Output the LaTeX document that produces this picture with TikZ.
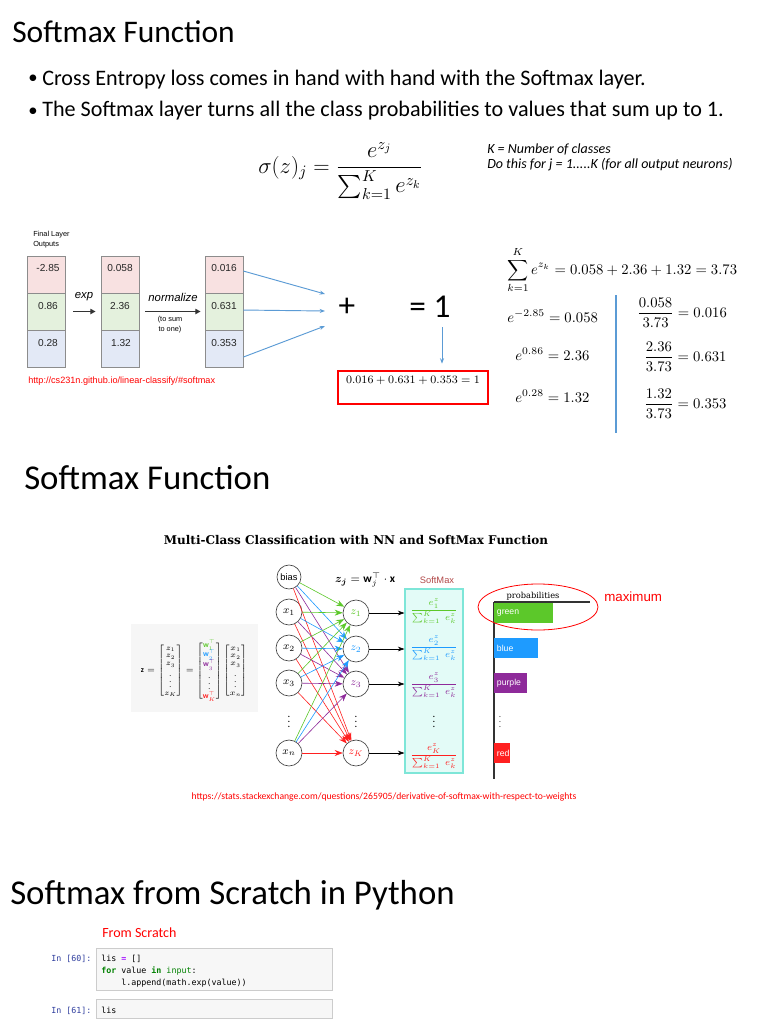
\RequirePackage{fix-cm}
\documentclass[tikz,border=0pt]{standalone}
\usepackage{amsmath}
\usepackage{fontspec}
\setmainfont{Carlito}
\newfontfamily\arialf{Liberation Sans}
\newfontfamily\slabf{DejaVu Serif}
\newfontfamily\monof{DejaVu Sans Mono}
\usetikzlibrary{arrows.meta,shapes.geometric}
\newcommand{\myfs}[1]{\fontsize{#1}{#1}\selectfont}
\definecolor{lblue}{HTML}{5B9BD5}
\definecolor{cred}{HTML}{F8E1E1}
\definecolor{cgreen}{HTML}{E4F1DD}
\definecolor{cblue}{HTML}{E3E9F6}
\definecolor{ngreen}{HTML}{5CC82A}
\definecolor{nblue}{HTML}{1E9BFF}
\definecolor{npurple}{HTML}{8E2A9A}
\definecolor{nred}{HTML}{FF2020}
\definecolor{smfill}{HTML}{E3FBF7}
\definecolor{smborder}{HTML}{7EE6D8}
\definecolor{smlabel}{HTML}{B24A4A}
\definecolor{jblue}{HTML}{303F9F}
\definecolor{jgreen}{HTML}{008000}
\definecolor{jpurple}{HTML}{AA22FF}
\begin{document}
\begin{tikzpicture}[x=0.75pt,y=-0.75pt,
  every node/.style={inner sep=0pt},
  ttl/.style={anchor=base west, font=\myfs{23.6}},
  ttlb/.style={anchor=base west, font=\myfs{26.1}},
  bul/.style={anchor=base west, font=\myfs{16.6}},
  buldot/.style={anchor=base west, font=\myfs{14}},
  cellbox/.style={draw=black!45, line width=0.6pt, minimum width=28.5pt, minimum height=27.75pt},
  celltxt/.style={font=\arialf\myfs{7.6}, text=black!85},
  fatarr/.style={line width=1pt, black!80, -{Triangle[length=4pt,width=4pt]}},
  blueline/.style={draw=lblue, line width=0.7pt},
  bluearr/.style={blueline, -{Stealth[length=4pt,width=3pt]}},
  rmath/.style={anchor=base west, font=\myfs{11}},
  neuron/.style={circle, draw=black!75, fill=white, line width=0.5pt, minimum size=19.5pt, font=\myfs{8}},
  nnedge/.style={line width=0.45pt, -{Stealth[length=6pt,width=4.5pt]}},
  smarr/.style={line width=0.5pt, -{Stealth[length=5pt,width=3.5pt]}},
  frac/.style={font=\myfs{7}},
  bar/.style={anchor=north west, inner xsep=2pt, minimum height=15pt, text=white, font=\arialf\myfs{6.5}, align=left},
  codetxt/.style={anchor=base west, font=\monof\myfs{6.25}},
  cell/.style={draw=black!20, fill=black!3, line width=0.5pt, anchor=north west, minimum width=177pt}
]
\fill[white] (0,0) rectangle (768,1024);
\useasboundingbox (0,0) rectangle (768,1024);

% ---------- top section ----------
\node[ttl] (title1) at (12,43) {Softmax Function};
\node[buldot] (b1dot) at (28,84) {•};
\node[bul] (b1) at (42,85) {Cross Entropy loss comes in hand with hand with the Softmax layer.};
\node[buldot] (b2dot) at (28,116) {•};
\node[bul] (b2) at (42,117) {The Softmax layer turns all the class probabilities to values that sum up to 1.};

\node[anchor=base west, font=\myfs{17}] (sigma) at (258,173) {$\sigma(z)_j = \dfrac{e^{z_j}}{\sum_{k=1}^{K} e^{z_k}}$};
\node[anchor=base west, font=\itshape\myfs{10.5}] (note1) at (487,153) {K = Number of classes};
\node[anchor=base west, font=\itshape\myfs{10.5}] (note2) at (487,168) {Do this for j = 1.....K (for all output neurons)};

% table
\node[anchor=base west, font=\arialf\myfs{5.5}] (fl1) at (33,236) {Final Layer};
\node[anchor=base west, font=\arialf\myfs{5.5}] (fl2) at (33,246) {Outputs};

\node[cellbox, fill=cred]   (a1) at (46,274.5) {};
\node[cellbox, fill=cgreen] (a2) at (46,311.5) {};
\node[cellbox, fill=cblue]  (a3) at (46,348.5) {};
\node[cellbox, fill=cred]   (b1c) at (120,274.5) {};
\node[cellbox, fill=cgreen] (b2c) at (120,311.5) {};
\node[cellbox, fill=cblue]  (b3c) at (120,348.5) {};
\node[cellbox, fill=cred]   (c1) at (224,274.5) {};
\node[cellbox, fill=cgreen] (c2) at (224,311.5) {};
\node[cellbox, fill=cblue]  (c3) at (224,348.5) {};

\node[celltxt] (a1t) at (48,268) {-2.85};
\node[celltxt] (a2t) at (48,306) {0.86};
\node[celltxt] (a3t) at (48,343) {0.28};
\node[celltxt] (b1t) at (120,268) {0.058};
\node[celltxt] (b2t) at (120,306) {2.36};
\node[celltxt] (b3t) at (121,343) {1.32};
\node[celltxt] (c1t) at (224,268) {0.016};
\node[celltxt] (c2t) at (224,306) {0.631};
\node[celltxt] (c3t) at (224,343) {0.353};

\node[font=\arialf\itshape\myfs{8.5}] (expl) at (84,297) {exp};
\draw[fatarr, shorten <=6pt, shorten >=3.75pt] (a2.east) -- (b2c.west);
\node[font=\arialf\itshape\myfs{8.5}] (norml) at (173,297) {normalize};
\draw[fatarr, shorten <=4.5pt, shorten >=3pt] (b2c.east) -- (c2.west);
\node[font=\arialf\myfs{5.5}] (tosum1) at (170,320) {(to sum};
\node[font=\arialf\myfs{5.5}] (tosum2) at (170,330) {to one)};

\node[anchor=base west, text=red, font=\arialf\myfs{6.85}] (url1) at (28,383) {http://cs231n.github.io/linear-classify/\#softmax};

\node[font=\myfs{25}] (plus) at (347,307) {+};
\node[font=\myfs{25}] (eq1) at (430,307) {= 1};
\coordinate (p1) at (325,294);
\coordinate (p2) at (325,311);
\coordinate (p3) at (325,326);
\draw[bluearr] ([yshift=2.6pt]c1.east) -- (p1);
\draw[bluearr] ([yshift=1.1pt]c2.east) -- (p2);
\draw[bluearr] ([yshift=-6.4pt]c3.east) -- (p3);

\node[draw=red, line width=1.1pt, minimum width=112.5pt, minimum height=24.75pt] (rbox) at (413,387.5) {};
\node[font=\myfs{8.5}] (rboxt) at (413,380) {$0.016 + 0.631 + 0.353 = 1$};
\coordinate (dn1) at (442,327);
\draw[bluearr, shorten >=5pt] (dn1) -- (dn1 |- rbox.north);

% right math
\node[rmath] (sumline) at (507,274) {$\displaystyle\sum_{k=1}^{K} e^{z_k} = 0.058 + 2.36 + 1.32 = 3.73$};
\node[rmath] (e1) at (507,322) {$e^{-2.85} = 0.058$};
\node[rmath] (e2) at (515,360) {$e^{0.86} = 2.36$};
\node[rmath] (e3) at (515,402) {$e^{0.28} = 1.32$};
\draw[blueline, line width=1pt] (616,295) -- (616,433);
\node[rmath] (fr1) at (637,317) {$\dfrac{0.058}{3.73} = 0.016$};
\node[rmath] (fr2) at (644,361) {$\dfrac{2.36}{3.73} = 0.631$};
\node[rmath] (fr3) at (644,408) {$\dfrac{1.32}{3.73} = 0.353$};

% ---------- middle section ----------
\node[ttlb] (title2) at (24,489) {Softmax Function};
\node[font=\slabf\bfseries\myfs{9}] (nntitle) at (356,540) {Multi-Class Classification with NN and SoftMax Function};

\fill[gray!7] (131,624) rectangle (258,712);
\node[font=\myfs{5.8}] (zmat) at (194,671) {$\mathbf{z}=\begin{bmatrix}z_1\\z_2\\z_3\\\vdots\\z_K\end{bmatrix}=\begin{bmatrix}\color{ngreen}\mathbf{w}_1^\top\\\color{nblue}\mathbf{w}_2^\top\\\color{npurple}\mathbf{w}_3^\top\\\vdots\\\color{nred}\mathbf{w}_K^\top\end{bmatrix}\begin{bmatrix}x_1\\x_2\\x_3\\\vdots\\x_n\end{bmatrix}$};

\node[neuron, font=\arialf\myfs{7}, minimum size=18pt] (bias) at (289,577) {bias};
\node[neuron] (x1) at (289,612) {$x_1$};
\node[neuron] (x2) at (289,648) {$x_2$};
\node[neuron] (x3) at (289,683) {$x_3$};
\node[font=\myfs{8}] (xd) at (289,718) {$\vdots$};
\node[neuron] (xn) at (289,753) {$x_n$};

\node[neuron, text=ngreen] (z1) at (356,613) {$z_1$};
\node[neuron, text=nblue] (z2) at (356,649) {$z_2$};
\node[neuron, text=npurple] (z3) at (356,684) {$z_3$};
\node[font=\myfs{8}] (zd) at (356,718) {$\vdots$};
\node[neuron, text=nred] (zK) at (356,753) {$z_K$};

\foreach \t/\c in {zK/nred, z3/npurple, z2/nblue, z1/ngreen}{
  \foreach \s in {bias,x1,x2,x3,xn}{
    \draw[nnedge, \c] (\s) -- (\t);
  }
}

\node[font=\myfs{8.5}] (zeq) at (365,580) {$\boldsymbol{z_j} = \mathbf{w}_j^{\top}\cdot\mathbf{x}$};
\node[text=smlabel, font=\arialf\myfs{7}] (smlbl) at (437,580) {SoftMax};
\node[draw=smborder, fill=smfill, line width=0.8pt, minimum width=43.5pt, minimum height=138pt] (smbox) at (434,681) {};

\node[frac, text=ngreen] (f1) at (434,611) {$\dfrac{e^{z}_{1}}{\sum_{k=1}^{K}\; e^{z}_{k}}$};
\node[frac, text=nblue] (f2) at (434,648) {$\dfrac{e^{z}_{2}}{\sum_{k=1}^{K}\; e^{z}_{k}}$};
\node[frac, text=npurple] (f3) at (434,685) {$\dfrac{e^{z}_{3}}{\sum_{k=1}^{K}\; e^{z}_{k}}$};
\node[font=\myfs{8}] (fd) at (434,718) {$\vdots$};
\node[frac, text=nred] (fK) at (434,756) {$\dfrac{e^{z}_{K}}{\sum_{k=1}^{K}\; e^{z}_{k}}$};

\foreach \z in {z1,z2,z3,zK}{
  \draw[smarr] (\z) -- (\z -| smbox.west);
}

% probabilities
\draw[line width=0.8pt, black!80] (494,602) -- (494,779);
\draw[line width=0.8pt, black!80] (494,602) -- (590,602);
\node[anchor=base, font=\slabf\myfs{6.2}] (problbl) at (533,598) {probabilities};
\node[bar, fill=ngreen, minimum width=44.25pt, text width=40.25pt] (bgreen) at (494,603) {green};
\node[bar, fill=nblue, minimum width=33pt, text width=29pt] (bblue) at (494,638) {blue};
\node[bar, fill=npurple, minimum width=24.75pt, text width=20.75pt] (bpurple) at (494,673) {purple};
\node[font=\myfs{7}, text=black!70] (bdots) at (500,718) {$\vdots$};
\node[bar, fill=nred, minimum width=12pt, text width=8pt, inner xsep=1pt] (bred) at (494,743) {red};
\node[ellipse, draw=red, line width=0.6pt, minimum width=90pt, minimum height=34.5pt] (maxell) at (538,607) {};
\node[anchor=west, text=red, font=\arialf\myfs{10}] (maxlbl) at (604,597) {maximum};

\node[anchor=base, text=red, font=\myfs{7.25}] (url2) at (384,799) {https://stats.stackexchange.com/questions/265905/derivative-of-softmax-with-respect-to-weights};

% ---------- bottom section ----------
\node[ttlb] (title3) at (10,904) {Softmax from Scratch in Python};
\node[anchor=base west, text=red, font=\myfs{10.5}] (fromscr) at (102,937) {From Scratch};

\node[cell, minimum height=31.5pt] (cell1) at (96,948) {};
\node[cell, minimum height=14.25pt] (cell2) at (96,999) {};
\node[codetxt, text=jblue] (in60) at (51,961) {In [60]:};
\node[codetxt] (cl1) at (101,961) {lis \textcolor{jpurple}{\bfseries =} []};
\node[codetxt] (cl2) at (101,973) {\textcolor{jgreen}{\bfseries for} value \textcolor{jgreen}{\bfseries in} \textcolor{jgreen}{input}:};
\node[codetxt] (cl3) at (101,985) {\phantom{xxxx}l.append(math.exp(value))};
\node[codetxt, text=jblue] (in61) at (51,1013) {In [61]:};
\node[codetxt] (cl4) at (101,1013) {lis};
\end{tikzpicture}
\end{document}
